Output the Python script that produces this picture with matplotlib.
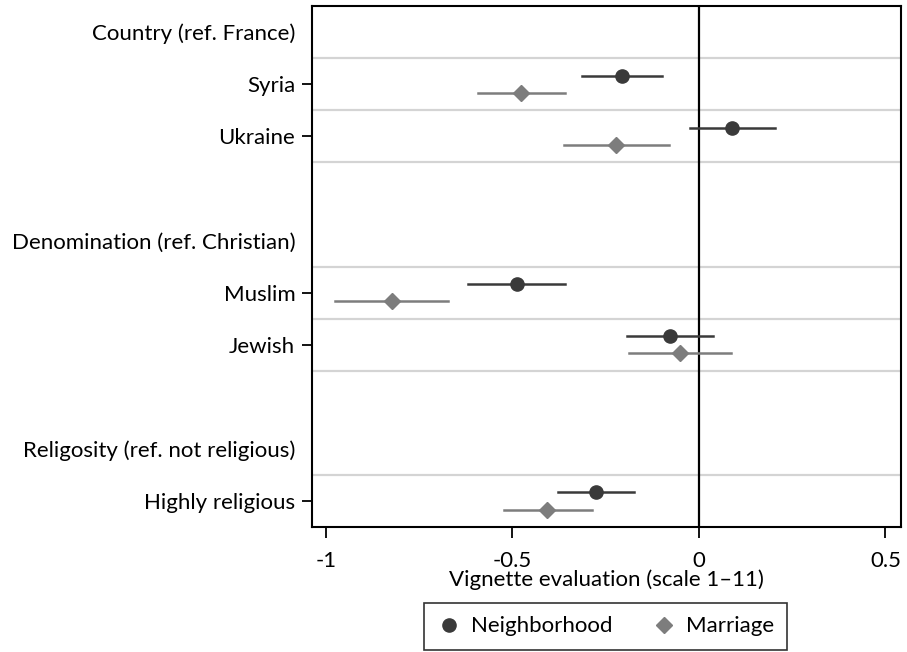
import matplotlib.pyplot as plt
from matplotlib.lines import Line2D

plt.rcParams['font.family'] = ['Lato', 'DejaVu Sans']

# rows from top to bottom; headers have no estimates
labels = ['Country (ref. France)', 'Syria', 'Ukraine', '',
          'Denomination (ref. Christian)', 'Muslim', 'Jewish', '',
          'Religosity (ref. not religious)', 'Highly religious']
headers = [0, 4, 8]
item_rows = [1, 2, 5, 6, 9]
grid_rows = [0.5, 1.5, 2.5, 4.5, 5.5, 6.5, 8.5]

# Neighborhood estimates and 95% CIs
nb_est = [-0.206, 0.089, -0.489, -0.079, -0.276]
nb_lo = [-0.314, -0.023, -0.619, -0.194, -0.379]
nb_hi = [-0.098, 0.203, -0.358, 0.038, -0.173]

# Marriage estimates and 95% CIs
mar_est = [-0.477, -0.223, -0.824, -0.052, -0.407]
mar_lo = [-0.593, -0.363, -0.976, -0.188, -0.524]
mar_hi = [-0.360, -0.080, -0.672, 0.086, -0.286]

xticks = [-1, -0.5, 0, 0.5]
xtick_labels = ['-1', '-0.5', '0', '0.5']

nb_col = '#3a3a3a'
mar_col = '#7d7d7d'
off = 0.165
fs = 16

fig = plt.figure(figsize=(9.07, 6.52), dpi=100)
ax = fig.add_axes([0.344, 0.1917, 0.6494, 0.7991])

for g in grid_rows:
    ax.axhline(g, color='#d4d4d4', lw=1.6, zorder=0)
ax.axvline(0, color='black', lw=1.6, zorder=1)

for i, r in enumerate(item_rows):
    ax.plot([nb_lo[i], nb_hi[i]], [r - off, r - off], color=nb_col, lw=1.8, zorder=2)
    ax.plot(nb_est[i], r - off, 'o', color=nb_col, ms=9.5, zorder=3)
    ax.plot([mar_lo[i], mar_hi[i]], [r + off, r + off], color=mar_col, lw=1.8, zorder=2)
    ax.plot(mar_est[i], r + off, 'D', color=mar_col, ms=8, zorder=3)

ax.set_xlim(-1.0375, 0.5416)
ax.set_ylim(9.5, -0.5)

ax.set_yticks(range(len(labels)))
ax.set_yticklabels(labels, fontsize=fs)
ax.tick_params(axis='y', length=7, width=1.3, pad=5)
for k, t in enumerate(ax.yaxis.get_major_ticks()):
    if k not in item_rows:
        t.tick1line.set_visible(False)

ax.set_xticks(xticks)
ax.set_xticklabels(xtick_labels, fontsize=fs)
ax.tick_params(axis='x', length=8, width=1.3, pad=9)
ax.set_xlabel('Vignette evaluation (scale 1–11)', fontsize=fs, labelpad=-1)

for s in ax.spines.values():
    s.set_linewidth(1.5)

handles = [Line2D([], [], marker='o', color=nb_col, ls='none', ms=9.5),
           Line2D([], [], marker='D', color=mar_col, ls='none', ms=8)]
leg = fig.legend(handles, ['Neighborhood', 'Marriage'], loc='lower center',
                 bbox_to_anchor=(0.668, 0.0), ncol=2, fontsize=fs, frameon=True,
                 fancybox=False, edgecolor='black', handletextpad=0.5,
                 columnspacing=1.8, borderpad=0.6, handlelength=1.0,
                 borderaxespad=0.1)
leg.get_frame().set_linewidth(1.2)

plt.savefig('out.png', dpi=100)
